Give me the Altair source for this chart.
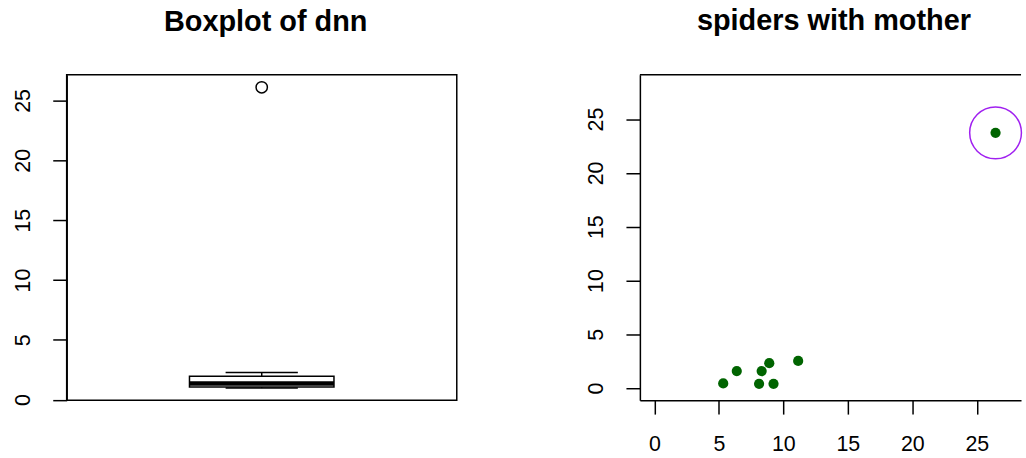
import altair as alt
import pandas as pd

# Five-number summary of the nearest-neighbour distances (dnn) and its outlier
box_lower = 0.97
box_q1 = 1.05
box_median = 1.36
box_q3 = 1.95
box_upper = 2.28
box_outliers = [26.1]

# Spider positions (the last one is the mother)
spider_x = [5.34, 6.39, 8.12, 8.32, 8.91, 9.24, 11.15, 26.45]
spider_y = [0.44, 1.58, 0.40, 1.58, 2.32, 0.40, 2.53, 23.72]
mother_x = [26.45]
mother_y = [23.72]

axis_ticks = [0, 5, 10, 15, 20, 25]

FONT = "Liberation Sans"
LABEL_SIZE = 21.5
TICK = 14
LINE = 1.5
PANEL_W_LEFT = 392
PANEL_W_RIGHT = 383
PANEL_H = 327

# ---------- left panel: boxplot ----------
BOX_CENTER = 1.0
BOX_HALF = 0.2
STAPLE_HALF = 0.1

x_box = alt.Scale(domain=[0.46, 1.54], nice=False, zero=False)
y_box = alt.Scale(domain=[-0.04, 27.15], nice=False, zero=False)
y_axis = alt.Axis(values=axis_ticks, title=None, tickSize=TICK, labelAngle=270,
                  labelAlign="center", labelBaseline="alphabetic",
                  labelPadding=23.7, grid=False)

box_df = pd.DataFrame({"x0": [BOX_CENTER - BOX_HALF], "x1": [BOX_CENTER + BOX_HALF],
                       "q1": [box_q1], "q3": [box_q3], "median": [box_median]})
whisker_df = pd.DataFrame({"x": [BOX_CENTER, BOX_CENTER],
                           "y0": [box_q3, box_lower], "y1": [box_upper, box_q1]})
staple_df = pd.DataFrame({"x0": [BOX_CENTER - STAPLE_HALF] * 2,
                          "x1": [BOX_CENTER + STAPLE_HALF] * 2,
                          "y": [box_lower, box_upper]})
outlier_df = pd.DataFrame({"x": [BOX_CENTER] * len(box_outliers), "y": box_outliers})

box = alt.Chart(box_df).mark_rect(fill="white", stroke="black", strokeWidth=LINE).encode(
    x=alt.X("x0:Q", scale=x_box, axis=None), x2="x1:Q",
    y=alt.Y("q1:Q", scale=y_box, axis=y_axis), y2="q3:Q")
median = alt.Chart(box_df).mark_rule(color="black", strokeWidth=4.5).encode(
    x=alt.X("x0:Q", scale=x_box, axis=None), x2="x1:Q",
    y=alt.Y("median:Q", scale=y_box, axis=y_axis))
whiskers = alt.Chart(whisker_df).mark_rule(color="black", strokeWidth=LINE,
                                           strokeDash=[5, 4]).encode(
    x=alt.X("x:Q", scale=x_box, axis=None),
    y=alt.Y("y0:Q", scale=y_box, axis=y_axis), y2="y1:Q")
staples = alt.Chart(staple_df).mark_rule(color="black", strokeWidth=LINE).encode(
    x=alt.X("x0:Q", scale=x_box, axis=None), x2="x1:Q",
    y=alt.Y("y:Q", scale=y_box, axis=y_axis))
outliers = alt.Chart(outlier_df).mark_point(shape="circle", filled=False, color="black",
                                            size=130, strokeWidth=LINE, opacity=1).encode(
    x=alt.X("x:Q", scale=x_box, axis=None),
    y=alt.Y("y:Q", scale=y_box, axis=y_axis))

left = alt.layer(whiskers, box, median, staples, outliers).properties(
    width=PANEL_W_LEFT, height=PANEL_H,
    title=alt.TitleParams("Boxplot of dnn", dx=4))

# ---------- right panel: spider positions ----------
x_sp = alt.Scale(domain=[-1.12, 28.425], nice=False, zero=False)
y_sp = alt.Scale(domain=[-1.12, 29.12], nice=False, zero=False)
x_axis = alt.Axis(values=axis_ticks, title=None, tickSize=TICK, labelAngle=0,
                  labelAlign="center", labelBaseline="alphabetic",
                  labelPadding=36.7, labelFlush=False, grid=False)

spiders_df = pd.DataFrame({"x": spider_x, "y": spider_y})
mother_df = pd.DataFrame({"x": mother_x, "y": mother_y})

top_edge = alt.Chart(pd.DataFrame({"k": [0]})).mark_rule(
    color="black", strokeWidth=LINE).encode(
    x=alt.value(0), x2=alt.value(PANEL_W_RIGHT), y=alt.value(0))
# ring around the mother (symbol size is the area of its bounding square)
ring = alt.Chart(mother_df).mark_point(shape="circle", filled=False, color="#A020F0",
                                       size=52 ** 2, strokeWidth=LINE,
                                       opacity=1).encode(
    x=alt.X("x:Q", scale=x_sp, axis=x_axis),
    y=alt.Y("y:Q", scale=y_sp, axis=y_axis))
spiders = alt.Chart(spiders_df).mark_circle(color="#006400", size=105, opacity=1).encode(
    x=alt.X("x:Q", scale=x_sp, axis=x_axis),
    y=alt.Y("y:Q", scale=y_sp, axis=y_axis))

right = alt.layer(top_edge, ring, spiders).properties(
    width=PANEL_W_RIGHT, height=PANEL_H,
    title=alt.TitleParams("spiders with mother", dx=3.5),
    view=alt.ViewBackground(stroke="transparent"))

chart = alt.hconcat(left, right, spacing=184, bounds="flush").properties(
    padding={"left": 11, "top": 5, "right": 0, "bottom": 0},
    autosize=alt.AutoSizeParams(type="pad"),
).configure_view(
    stroke="black", strokeWidth=LINE
).configure_axis(
    domainColor="black", tickColor="black", labelColor="black",
    domainWidth=LINE, tickWidth=LINE, labelFont=FONT, labelFontSize=LABEL_SIZE
).configure_title(
    font=FONT, fontSize=29, fontWeight="bold", color="black", anchor="middle",
    baseline="alphabetic", offset=38
)

chart.save("out.html", embed_options={"renderer": "svg", "actions": False})
